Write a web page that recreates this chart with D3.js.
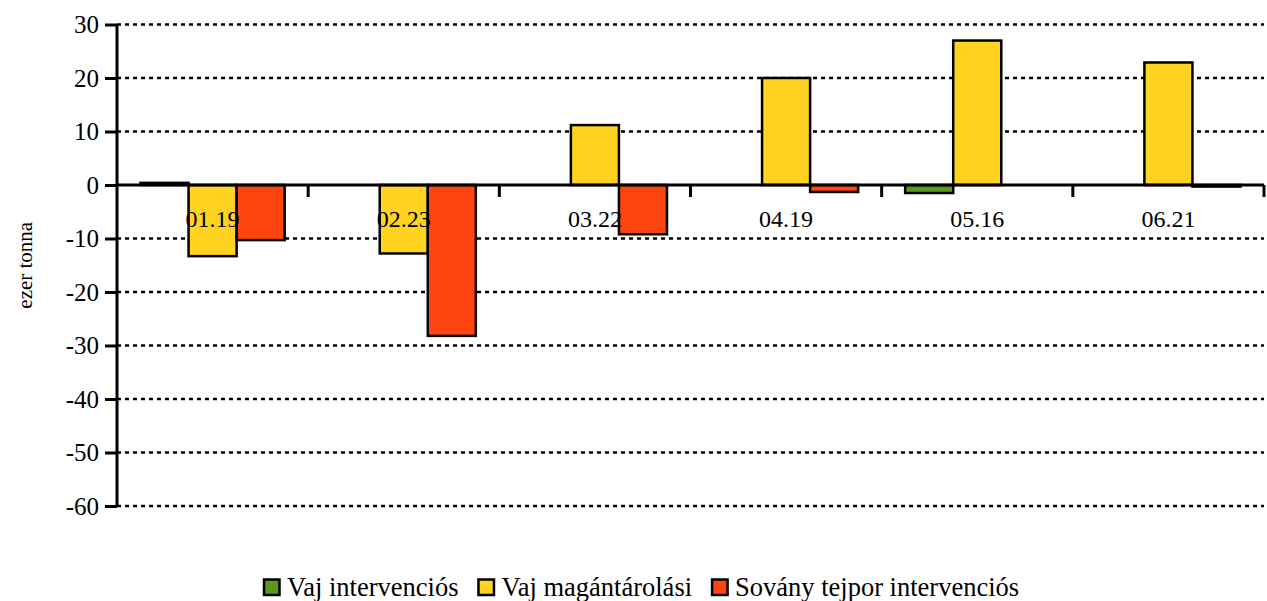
<!DOCTYPE html>
<html>
<head>
<meta charset="utf-8">
<script src="https://cdn.jsdelivr.net/npm/d3@7"></script>
<style>
  body { margin: 0; background: #fff; }
</style>
</head>
<body>
<script>
// data
const categories = ["01.19", "02.23", "03.22", "04.19", "05.16", "06.21"];
const seriesNames = ["Vaj intervenciós", "Vaj magántárolási", "Sovány tejpor intervenciós"];
const vajIntervencios = [0.4, 0, 0, 0, -1.5, 0];
const vajMagantarolasi = [-13.3, -12.8, 11.2, 20.0, 27.0, 22.9];
const sovanyTejpor = [-10.3, -28.2, -9.2, -1.3, 0, -0.3];
const yTicks = [30, 20, 10, 0, -10, -20, -30, -40, -50, -60];
const colors = ["#58991f", "#ffd320", "#ff450f"];

const FONT = "'Liberation Serif', 'DejaVu Serif', serif";
const w = 1267, h = 601;
const mLeft = 117, mRight = 1264, mTop = 24.5, mBottom = 506;

const series = [vajIntervencios, vajMagantarolasi, sovanyTejpor];

const svg = d3.select("body").append("svg")
  .attr("width", w).attr("height", h)
  .style("font-family", FONT);

const x = d3.scaleBand().domain(categories).range([mLeft, mRight]).paddingInner(0).paddingOuter(0);
const x1 = d3.scaleBand().domain(d3.range(3)).range([23.5, x.bandwidth() - 23.5]);
const y = d3.scaleLinear().domain([-60, 30]).range([mBottom, mTop]);

// dotted gridlines
svg.selectAll(".grid")
  .data(yTicks.filter(d => d !== 0)).enter()
  .append("line")
  .attr("x1", mLeft).attr("x2", mRight)
  .attr("y1", d => y(d)).attr("y2", d => y(d))
  .attr("stroke", "#000").attr("stroke-width", 2.5)
  .attr("stroke-dasharray", "4,4");

// bars
const group = svg.selectAll(".grp")
  .data(categories).enter()
  .append("g")
  .attr("transform", d => `translate(${x(d)},0)`);

group.selectAll("rect")
  .data((c, i) => series.map((s, k) => ({ k, v: s[i] })))
  .enter().append("rect")
  .attr("x", d => x1(d.k))
  .attr("width", x1.bandwidth())
  .attr("y", d => y(Math.max(0, d.v)))
  .attr("height", d => Math.abs(y(d.v) - y(0)))
  .attr("fill", d => colors[d.k])
  .attr("stroke", "#000").attr("stroke-width", 2.5);

// y axis
const yAxis = svg.append("g")
  .attr("transform", `translate(${mLeft},0)`)
  .call(d3.axisLeft(y).tickValues(yTicks).tickSize(12).tickPadding(6).tickFormat(d => String(d)));
yAxis.attr("font-family", null).attr("font-size", null);
yAxis.select(".domain").attr("stroke", "#000").attr("stroke-width", 3)
  .attr("d", `M0,${mTop}V${mBottom}`);
yAxis.selectAll(".tick line").attr("stroke", "#000").attr("stroke-width", 3);
yAxis.selectAll(".tick text").style("font-family", FONT).style("font-size", "25px").attr("fill", "#000");

// x axis at zero
const xAxis = svg.append("g")
  .attr("transform", `translate(0,${y(0)})`);
xAxis.append("line")
  .attr("x1", mLeft).attr("x2", mRight)
  .attr("stroke", "#000").attr("stroke-width", 3);
xAxis.selectAll(".xt")
  .data(categories).enter()
  .append("line")
  .attr("x1", d => x(d) + x.bandwidth()).attr("x2", d => x(d) + x.bandwidth())
  .attr("y1", 0).attr("y2", 12)
  .attr("stroke", "#000").attr("stroke-width", 3);
xAxis.selectAll(".xl")
  .data(categories).enter()
  .append("text")
  .attr("x", d => x(d) + x.bandwidth() / 2)
  .attr("y", 42)
  .attr("text-anchor", "middle")
  .style("font-family", FONT).style("font-size", "24px")
  .text(d => d);

// y label
svg.append("text")
  .attr("transform", `translate(32,${(mTop + mBottom) / 2}) rotate(-90)`)
  .attr("text-anchor", "middle")
  .style("font-family", FONT).style("font-size", "21px")
  .text("ezer tonna");

// legend
const legend = svg.append("g").attr("transform", "translate(264,587)");
let lx = 0;
seriesNames.forEach((name, i) => {
  const g = legend.append("g").attr("transform", `translate(${lx},0)`);
  g.append("rect").attr("x", 0).attr("y", -7.5).attr("width", 15.5).attr("height", 15.5)
    .attr("fill", colors[i]).attr("stroke", "#000").attr("stroke-width", 2.5);
  const t = g.append("text").attr("x", 23).attr("y", 9)
    .style("font-family", FONT).style("font-size", "26.5px").text(name);
  lx += 23 + t.node().getComputedTextLength() + 20;
});
</script>
</body>
</html>
